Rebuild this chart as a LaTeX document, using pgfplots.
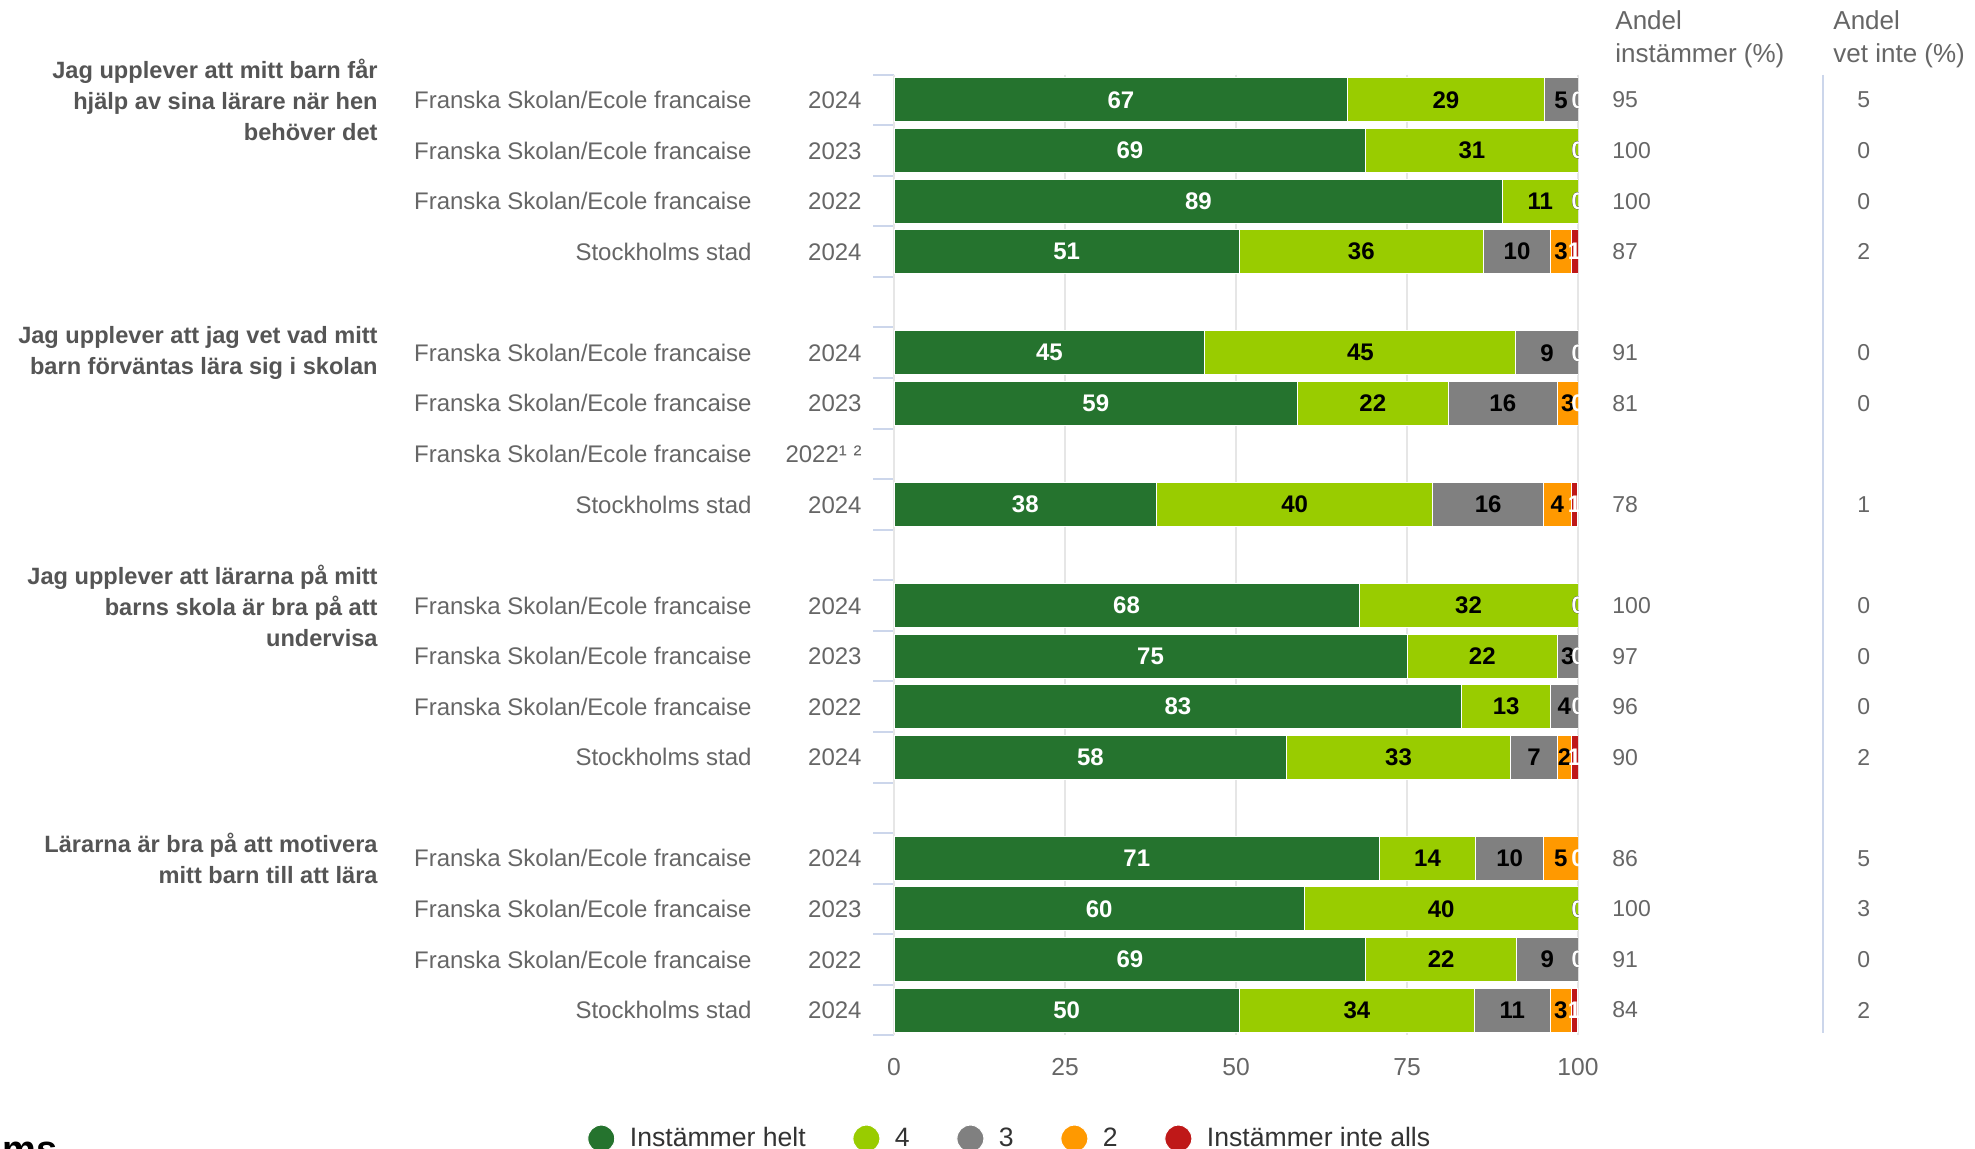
\documentclass[border=0pt]{standalone}
\usepackage{fontspec}
\setmainfont{Liberation Sans}
\usepackage{pgfplots}
\usepackage{pgfplotstable}
\pgfplotsset{compat=1.18}
\definecolor{cA}{HTML}{25732E}
\definecolor{cB}{HTML}{99CC00}
\definecolor{cC}{HTML}{808080}
\definecolor{cD}{HTML}{FF9900}
\definecolor{cE}{HTML}{BF1818}
\definecolor{txt}{HTML}{666666}
\definecolor{ttl}{HTML}{555555}
\definecolor{legtxt}{HTML}{333333}
\definecolor{axl}{HTML}{CCD6EB}
\definecolor{grd}{HTML}{E6E6E6}

% row: position from top (gaps at 4, 9, 14; row 7 has no data)
\pgfplotstableread{
row a  b  c  d e ins vet
0   67 29 5  0 0 95  5
1   69 31 0  0 0 100 0
2   89 11 0  0 0 100 0
3   51 36 10 3 1 87  2
5   45 45 9  0 0 91  0
6   59 22 16 3 0 81  0
8   38 40 16 4 1 78  1
10  68 32 0  0 0 100 0
11  75 22 3  0 0 97  0
12  83 13 4  0 0 96  0
13  58 33 7  2 1 90  2
15  71 14 10 5 0 86  5
16  60 40 0  0 0 100 3
17  69 22 9  0 0 91  0
18  50 34 11 3 1 84  2
}\data

\newcommand{\rowsum}{(\thisrow{a}+\thisrow{b}+\thisrow{c}+\thisrow{d}+\thisrow{e})}
\newcommand{\lblF}[1]{Franska Skolan/Ecole francaise\makebox[55pt][r]{#1}}
\newcommand{\lblS}[1]{Stockholms stad\makebox[55pt][r]{#1}}

\pgfplotsset{base/.style={
  scale only axis, width=342pt, height=480.3pt,
  at={(447pt,-37.35pt)}, anchor=north west,
  xmin=0, xmax=100, ymin=-0.5, ymax=18.5, y dir=reverse,
  /pgf/number format/assume math mode=true,
}}

\begin{document}
\begin{tikzpicture}
\fill[white] (0,0) rectangle (987.5pt,-574.5pt);
\path[use as bounding box] (0,0) rectangle (987.5pt,-574.5pt);

% bars
\begin{axis}[base,
  xbar stacked, bar width=22pt,
  axis y line*=left, axis x line*=bottom,
  x axis line style={draw=none},
  y axis line style={draw=grd, line width=0.75pt},
  xtick={0,25,50,75,100},
  xmajorgrids, grid style={draw=grd, line width=0.75pt},
  major tick length=0pt, minor tick length=10.5pt,
  tick align=outside,
  major x tick style={draw=none},
  major y tick style={draw=none},
  minor ytick={-0.5,0.5,...,18.5},
  minor y tick style={draw=axl, line width=1pt},
  xticklabel style={font=\fontsize{12.3}{14}\selectfont, text=txt, anchor=north, inner sep=0pt, yshift=-11.5pt},
  ytick={0,1,2,3,5,6,7,8,10,11,12,13,15,16,17,18},
  yticklabels={\lblF{2024},\lblF{2023},\lblF{2022},\lblS{2024},
               \lblF{2024},\lblF{2023},\lblF{2022¹ ²},\lblS{2024},
               \lblF{2024},\lblF{2023},\lblF{2022},\lblS{2024},
               \lblF{2024},\lblF{2023},\lblF{2022},\lblS{2024}},
  yticklabel style={font=\fontsize{12}{14}\selectfont, text=txt, anchor=east, inner sep=0pt, xshift=-16pt},
  every axis plot/.append style={draw=white, line width=0.5pt},
  every axis plot post/.append style={legend image code/.code={\fill (6.75pt,0pt) circle (6.75pt);}},
  legend style={at={(axis description cs:-0.449,-0.1075)}, anchor=west, draw=none, fill=none,
    legend columns=-1, font=\fontsize{13.3}{15}\selectfont, text=legtxt, inner sep=0pt,
    /tikz/every odd column/.append style={column sep=5.3pt},
    /tikz/every even column/.append style={column sep=21.3pt}},
]
\addplot[fill=cA] table[y=row, x expr={\thisrow{a}*100/\rowsum}] {\data};
\addplot[fill=cB] table[y=row, x expr={\thisrow{b}*100/\rowsum}] {\data};
\addplot[fill=cC] table[y=row, x expr={\thisrow{c}*100/\rowsum}] {\data};
\addplot[fill=cD] table[y=row, x expr={\thisrow{d}*100/\rowsum}] {\data};
\addplot[fill=cE] table[y=row, x expr={\thisrow{e}*100/\rowsum}] {\data};
\legend{Instämmer helt,4,3,2,Instämmer inte alls}
\end{axis}

% segment labels
\begin{axis}[base, hide axis, clip marker paths=true,
  nodes near coords, point meta=explicit,
  every node near coord/.append style={anchor=center, inner sep=0pt, font=\bfseries\fontsize{12}{14}\selectfont},
]
\addplot[draw=none, mark=none, nodes near coords style={text=white}]
  table[y=row, meta=a, x expr={(\thisrow{a}/2)*100/\rowsum}] {\data};
\addplot[draw=none, mark=none, nodes near coords style={text=black}]
  table[y=row, meta=b, x expr={(\thisrow{a}+\thisrow{b}/2)*100/\rowsum}] {\data};
\addplot[draw=none, mark=none, nodes near coords style={text=black}]
  table[y=row, meta=c, x expr={(\thisrow{a}+\thisrow{b}+\thisrow{c}/2)*100/\rowsum}] {\data};
\addplot[draw=none, mark=none, nodes near coords style={text=black}]
  table[y=row, meta=d, x expr={(\thisrow{a}+\thisrow{b}+\thisrow{c}+\thisrow{d}/2)*100/\rowsum}] {\data};
\addplot[draw=none, mark=none, nodes near coords style={text=white}]
  table[y=row, meta=e, x expr={(\thisrow{a}+\thisrow{b}+\thisrow{c}+\thisrow{d}+\thisrow{e}/2)*100/\rowsum}] {\data};
\end{axis}

% right-hand columns
\begin{axis}[base, hide axis, clip=false,
  nodes near coords, point meta=explicit,
  every node near coord/.append style={anchor=west, inner sep=0pt, text=txt, font=\fontsize{11.5}{14}\selectfont},
]
\addplot[draw=none, mark=none] table[y=row, meta=ins, x expr={104.97}] {\data};
\addplot[draw=none, mark=none] table[y=row, meta=vet, x expr={140.79}] {\data};
\end{axis}

% column headers and separator
\node[anchor=base west, inner sep=0pt, text=txt, font=\fontsize{13}{15}\selectfont] at (807.5pt,-14.7pt) {Andel};
\node[anchor=base west, inner sep=0pt, text=txt, font=\fontsize{13}{15}\selectfont] at (807.5pt,-31.2pt) {instämmer (\%)};
\node[anchor=base west, inner sep=0pt, text=txt, font=\fontsize{13}{15}\selectfont] at (916.5pt,-14.7pt) {Andel};
\node[anchor=base west, inner sep=0pt, text=txt, font=\fontsize{13}{15}\selectfont] at (916.5pt,-31.2pt) {vet inte (\%)};
\draw[axl, line width=0.75pt] (911.5pt,-37.5pt) -- (911.5pt,-516.5pt);

% group titles
\begin{scope}[every node/.style={anchor=east, align=right, inner sep=0pt, text=ttl, font=\bfseries\fontsize{11.8}{15.5}\selectfont}]
\node at (189pt,-50pt) {Jag upplever att mitt barn får\\hjälp av sina lärare när hen\\behöver det};
\node at (189pt,-176.4pt) {Jag upplever att jag vet vad mitt\\barn förväntas lära sig i skolan};
\node at (189pt,-302.8pt) {Jag upplever att lärarna på mitt\\barns skola är bra på att\\undervisa};
\node at (189pt,-429.2pt) {Lärarna är bra på att motivera\\mitt barn till att lära};
\end{scope}

\node[anchor=base west, inner sep=0pt, font=\bfseries\fontsize{19}{20}\selectfont] at (1pt,-581pt) {ms};
\end{tikzpicture}
\end{document}
